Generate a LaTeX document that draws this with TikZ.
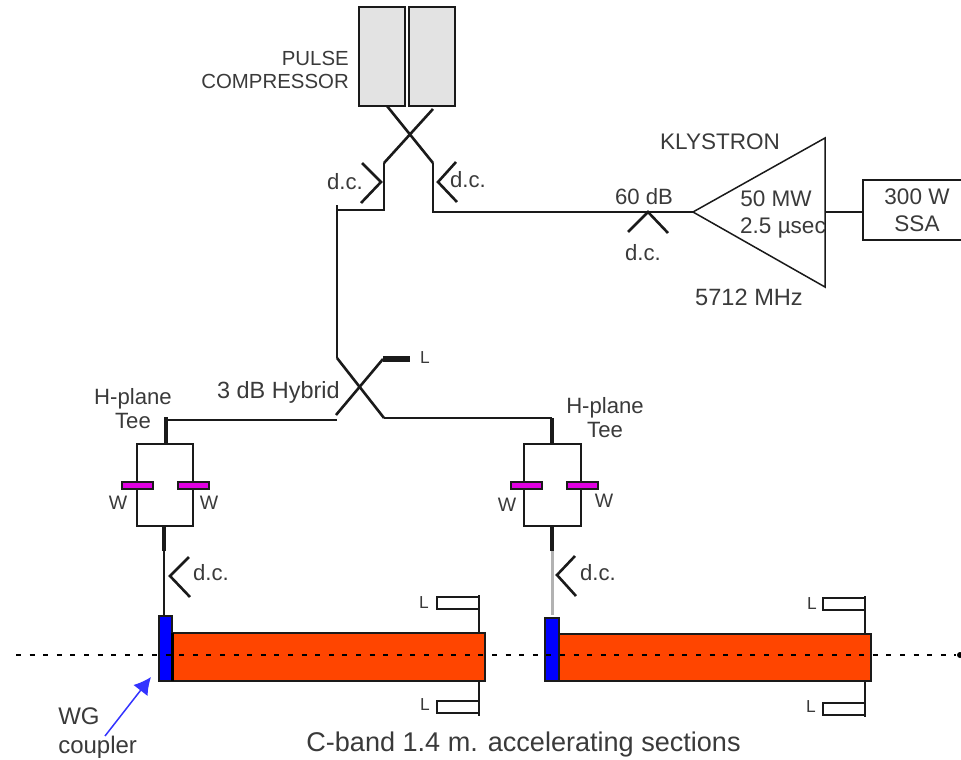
\documentclass[tikz,border=0pt]{standalone}
\usepackage{fontspec}
\setmainfont{Liberation Sans}
\usetikzlibrary{arrows.meta}
\def\px{*0.75pt}
\definecolor{txt}{HTML}{3A3A3A}
\definecolor{wire}{HTML}{1A1A1A}
\definecolor{rfred}{HTML}{FF4500}
\definecolor{win}{HTML}{E000E0}
\tikzset{
  wireline/.style={draw=wire,line width=1.6\px},
  thickwire/.style={draw=wire,line width=3.4\px},
  greywire/.style={draw=black!30,line width=3\px},
  dcmark/.style={draw=wire,line width=2.6\px},
  xwire/.style={draw=wire,line width=2.6\px},
  boxn/.style={draw=wire,line width=1.8\px,inner sep=0pt,outer sep=0pt,anchor=north west},
  pcbox/.style={boxn,fill=black!11,minimum width=46\px,minimum height=99\px},
  winbox/.style={boxn,fill=win,minimum width=31\px,minimum height=7\px},
  loadbox/.style={boxn,fill=white,minimum width=42\px,minimum height=12\px},
  coupler/.style={boxn,fill=blue},
  section/.style={boxn,fill=rfred},
  lbl/.style={text=txt,font=\fontsize{16.9pt}{20pt}\selectfont,inner sep=0pt,align=center},
  lblpc/.style={text=txt,font=\fontsize{15.3pt}{17.25pt}\selectfont,inner sep=0pt},
  lblsmall/.style={text=txt,font=\fontsize{16.6pt}{18pt}\selectfont,inner sep=0pt,align=center},
  lblw/.style={text=txt,font=\fontsize{14.6pt}{16pt}\selectfont,inner sep=0pt},
  lbltiny/.style={text=txt,font=\fontsize{13pt}{15pt}\selectfont,inner sep=0pt},
  lblbig/.style={text=txt,font=\fontsize{20.3pt}{21.75pt}\selectfont,inner sep=0pt},
  lblwg/.style={text=txt,font=\fontsize{18pt}{21.5pt}\selectfont,inner sep=0pt},
  beam/.style={draw=black,line width=2.2\px,dash pattern=on 5\px off 8.6\px},
}
\begin{document}
\begin{tikzpicture}[x=0.75pt,y=-0.75pt]
\useasboundingbox (0,0) rectangle (961,760);
% boxes
\node[pcbox] (pc1) at (359,7) {};
\node[pcbox] (pc2) at (409,7) {};
\node[section,minimum width=314\px,minimum height=48\px] (sa) at (171,633) {};
\node[coupler,minimum width=13\px,minimum height=65\px] (ca) at (159,616) {};
\node[section,minimum width=312\px,minimum height=47\px] (sb) at (559,634) {};
\node[coupler,minimum width=14\px,minimum height=63\px] (cb) at (545,618) {};
\draw[draw=black,line width=3\px] (ca.north east |- sa.north) -- (ca.south east);
% coordinates
\coordinate (xa1) at (387,106);
\coordinate (xa2) at (433,163);
\coordinate (xa3) at (433,212);
\coordinate (xb1) at (433,109);
\coordinate (xb2) at (384,163);
\coordinate (xb3) at (384,210);
\coordinate (xb4) at (337,210);
\coordinate (xb5) at (337,358);
\coordinate (xb0) at (337,205);
\coordinate (hy1) at (384,418);
\coordinate (hy2) at (336,415);
\coordinate (hy3) at (383,359);
\coordinate (ld)  at (410,359);
\coordinate (hl)  at (337,420);
\coordinate (tl1) at (166,420);
\coordinate (tl0) at (166,417);
\coordinate (tl2) at (166,444);
\coordinate (tr1) at (552,418);
\coordinate (tr2) at (552,444);
\coordinate (bl1) at (164,526);
\coordinate (bl2) at (164,551);
\coordinate (br1) at (552,526);
\coordinate (br2) at (552,551);
\coordinate (kin) at (693,212);
\coordinate (ktop) at (825,138);
\coordinate (kbot) at (825,287);
\coordinate (kout) at (825,212);
% klystron labels beneath the outline
\node[lbl] (t50) at (776,199) {50 MW};
\node[lbl] (t25) at (783,228) {2.5 µsec};
\draw[draw=wire,line width=1.5\px] (kin) -- (ktop) -- (kbot) -- cycle;
% SSA
\node[boxn,fill=white,minimum width=102\px,minimum height=60\px] (ssa) at (863,180) {};
\node[lbl] (tssa) at (917,210.5) {300 W\\SSA};
\draw[wireline] (kout) -- (ssa.west |- kout);
% main waveguide
\draw[xwire] (xa1) -- (xa2);
\draw[xwire] (xb1) -- (xb2);
\draw[wireline] (xa2) -- (xa3) -- (kin);
\draw[wireline] (xb2) -- (xb3) -- (xb4);
\draw[wireline] (xb0) -- (xb5);
% hybrid
\draw[xwire] (xb5) -- (hy1);
\draw[xwire] (hy2) -- (hy3);
\draw[line width=6.5\px,draw=wire] (hy3) -- (ld);
\draw[wireline] (hy1) -- (tr1);
\draw[wireline] (hl) -- (tl1);
% left tee
\draw[thickwire] (tl0) -- (tl2);
\draw[wireline] (137,444) rectangle (193,526);
\draw[thickwire] (bl1) -- (bl2);
\draw[wireline] (bl2) -- (ca.north -| bl2);
\node[winbox] (wa) at (122,482) {};
\node[winbox] (wb) at (178,482) {};
% right tee
\draw[thickwire] (tr1) -- (tr2);
\draw[wireline] (524,444) rectangle (581,526);
\draw[thickwire] (br1) -- (br2);
\draw[greywire] (br2) -- (552,615);
\node[winbox] (wc) at (511,482) {};
\node[winbox] (wd) at (567,482) {};
% directional couplers
\draw[dcmark] (362,163) -- (381,182) -- (361,203);
\draw[dcmark] (456,162) -- (438,182) -- (457,202);
\draw[dcmark] (628,232) -- (648,212) -- (668,233);
\draw[dcmark] (189,557) -- (170,576) -- (190,597);
\draw[dcmark] (575,556) -- (557,575) -- (576,596);
% loads
\draw[wireline] (479,595) -- (sa.north -| 479,0);
\draw[wireline] (sa.south -| 479,0) -- (479,716);
\node[loadbox] (la) at (437,597) {};
\node[loadbox] (lb) at (437,701) {};
\draw[wireline] (865,596) -- (sb.north -| 865,0);
\draw[wireline] (sb.south -| 865,0) -- (865,717);
\node[loadbox] (lc) at (823,598) {};
\node[loadbox] (ld2) at (823,703) {};
% beam axis
\coordinate (ba) at (16,655);
\coordinate (bb) at (956,655);
\draw[beam] (ba) -- (bb);
\fill[black] (960,655) circle[radius=3];
% arrow
\coordinate (wgt) at (105,736);
\coordinate (wgh) at (151,677);
\draw[draw=blue!80!white,line width=1.5\px,-{Latex[length=17\px,width=18\px]}] (wgt) -- (wgh);
% labels
\node[lblpc,align=right,anchor=east] (tpc) at (349,69.5) {PULSE\\COMPRESSOR};
\node[lblsmall] (tdc1) at (345,182) {d.c.};
\node[lblsmall] (tdc2) at (468,180) {d.c.};
\node[lblsmall] (tdb) at (644,197) {60 dB};
\node[lblsmall] (tdc3) at (643,253) {d.c.};
\node[lbl] (tkl) at (720,142) {KLYSTRON};
\node[lbl,font=\fontsize{17.7pt}{20pt}\selectfont] (tmhz) at (749,297) {5712 MHz};
\node[lbl,font=\fontsize{17.6pt}{20pt}\selectfont,anchor=east] (thy) at (340,392) {3 dB Hybrid};
\node[lbltiny] (tl) at (425,358) {L};
\node[lblsmall] (tta) at (133,409) {H-plane\\Tee};
\node[lblsmall] (ttb) at (605,418) {H-plane\\Tee};
\node[lblw] (twa) at (118,503) {W};
\node[lblw] (twb) at (209,503) {W};
\node[lblw] (twc) at (507,505) {W};
\node[lblw] (twd) at (604,501) {W};
\node[lblsmall] (tdc4) at (211,573) {d.c.};
\node[lblsmall] (tdc5) at (598,573) {d.c.};
\node[lbltiny] (tla) at (424,603) {L};
\node[lbltiny] (tlb) at (425,705) {L};
\node[lbltiny] (tlc) at (812,604) {L};
\node[lbltiny] (tld) at (811,707) {L};
\node[lblwg,align=left,anchor=west] (twg) at (58,733) {WG\\coupler};
\node[lblbig] (tcb) at (523.5,744) {C-band 1.4 m. accelerating sections};
\end{tikzpicture}
\end{document}
